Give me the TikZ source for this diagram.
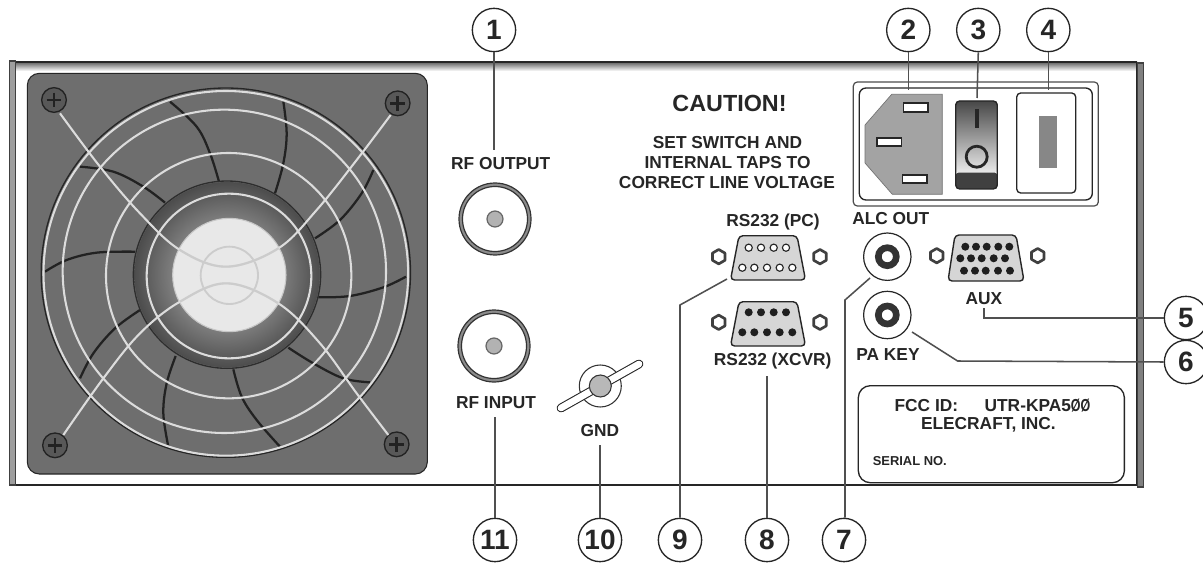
\documentclass[tikz,border=0pt]{standalone}
\usepackage{fontspec}
\setmainfont{Liberation Sans}
\definecolor{ink}{HTML}{262626}
\definecolor{leader}{HTML}{505050}
\definecolor{plate}{HTML}{6E6E6E}
\definecolor{wire}{HTML}{DCDCDC}
\definecolor{blade}{HTML}{222222}
\tikzset{
  callout/.style={circle,draw=ink,line width=1pt,fill=white,minimum size=32.5pt,inner sep=0pt,font=\fontsize{21}{21}\selectfont\bfseries,text=ink},
  lab/.style={inner sep=0pt,font=\fontsize{13}{13}\selectfont\bfseries,text=ink},
  leaderline/.style={draw=leader,line width=1.15pt},
  bladeline/.style={draw=blade,line width=1.7pt,smooth,tension=0.6},
  wireline/.style={draw=wire,line width=1.55pt},
  screwbody/.style={draw=blade,line width=1pt,fill=plate!80!black},
  dsub/.style={draw=ink,line width=1.05pt,fill=black!16,rounded corners=3pt},
  pinopen/.style={draw=ink,line width=.85pt,fill=white},
  pinfull/.style={fill=black!88},
  nut/.style={draw=black!75,line width=2pt,fill=white,line join=round},
}
\newcommand{\hexnut}[2]{\draw[nut,shift={(#1,#2)}] (30:7.2) -- (90:7.2) -- (150:7.2) -- (210:7.2) -- (270:7.2) -- (330:7.2) -- cycle;}
\begin{document}
\begin{tikzpicture}[x=0.75pt,y=-0.75pt]
\useasboundingbox (0,0) rectangle (1203,563);
\fill[white] (0,0) rectangle (1203,563);
% chassis
\shade[top color=black!62,bottom color=white] (15,62) rectangle (1137,71);
\draw[ink,line width=1pt] (15,62) -- (1137,62);
\draw[ink,line width=1pt] (15,485) -- (1137,485) -- (1137,62);
\draw[draw=black!75,line width=.8pt,fill=black!38] (9.5,61) rectangle (15.5,485);
\draw[draw=black!75,line width=.8pt,fill=black!50] (1137.5,63) rectangle (1143.5,487);
% fan
\begin{scope}[shift={(0,50)},x=0.25pt,y=-0.25pt]
  \fill[plate,draw=ink,line width=.8pt,rounded corners=9pt] (82,70) rectangle (1282,1272);
  \draw[bladeline] plot coordinates {(510,155) (590,230) (630,310) (657,395)};
  \draw[bladeline] plot coordinates {(850,155) (860,250) (850,340) (825,430)};
  \draw[bladeline] plot coordinates {(240,350) (340,365) (430,410) (495,458)};
  \draw[bladeline] plot coordinates {(1120,360) (1085,430) (1020,510) (945,565)};
  \draw[bladeline] plot coordinates {(135,665) (200,630) (290,608) (405,605)};
  \draw[bladeline] plot coordinates {(1218,680) (1150,712) (1050,738) (955,742)};
  \draw[bladeline] plot coordinates {(240,985) (280,910) (345,835) (420,780)};
  \draw[bladeline] plot coordinates {(1110,997) (1030,985) (940,940) (865,893)};
  \draw[bladeline] plot coordinates {(505,1190) (490,1090) (500,1000) (527,918)};
  \draw[bladeline] plot coordinates {(840,1190) (770,1110) (725,1040) (700,958)};
  \shade[inner color=black!22,outer color=black!70] (681,674) circle (278);
  \draw[black!82,line width=1pt] (681,674) circle (281);
  \fill[black!9,draw=black!22,line width=.8pt] (688,675) circle (170);
  \draw[black!85,line width=1pt] (677.5,668) circle (554);
  \draw[wireline] (677.5,670) circle (547);
  \draw[wireline] (673,664) circle (485);
  \draw[wireline] (686,677) circle (368);
  \draw[wireline] (687,678) circle (247);
  \draw[black!20,line width=1.4pt] (688,676) circle (86);
  \draw[screwbody] (162,150) circle (37);
  \draw[screwbody] (1193,160) circle (37);
  \draw[screwbody] (165,1186) circle (37);
  \draw[screwbody] (1190,1183) circle (37);
  \foreach \sx/\sy in {162/150,1193/160,165/1186,1190/1183}{
    \draw[blade,line width=2.2pt] (\sx-22,\sy) -- (\sx+22,\sy) (\sx,\sy-22) -- (\sx,\sy+22);
  }
  \draw[wireline,smooth,tension=0.6] plot coordinates {(180,190) (300,350) (420,490) (540,600) (680,650) (835,595) (950,480) (1070,330) (1172,195)};
  \draw[wireline,smooth,tension=0.6] plot coordinates {(190,1155) (310,985) (420,850) (540,755) (680,700) (835,760) (960,880) (1070,1030) (1165,1155)};
  \begin{scope}
    \clip (688,675) circle (168);
    \draw[black!20,line width=1.6pt,smooth,tension=0.6] plot coordinates {(420,490) (540,600) (680,650) (835,595) (950,480)};
    \draw[black!20,line width=1.6pt,smooth,tension=0.6] plot coordinates {(420,850) (540,755) (680,700) (835,760) (960,880)};
  \end{scope}
\end{scope}
% RF sockets
\foreach \cx/\cy in {495/219,494/346}{
  \draw[black!80,line width=.9pt,fill=black!45] (\cx,\cy) circle (36);
  \draw[black!80,line width=.9pt,fill=white] (\cx,\cy) circle (32.5);
  \draw[black!60,line width=.9pt,fill=black!30] (\cx,\cy) circle (8);
}
% GND post
\draw[black!80,line width=.8pt,fill=white] (600.3,386) circle (21);
\draw[black!85,line width=6.6pt,line cap=round] (561,408) -- (639,364);
\draw[white,line width=5pt,line cap=round] (561,408) -- (639,364);
\draw[black!80,line width=.8pt,fill=black!28] (600.3,386) circle (11);
% warning text
\node[lab,font=\fontsize{17.5}{17.5}\selectfont\bfseries] (caution) at (729.5,103) {CAUTION!};
\node[lab] (set1) at (727.5,143) {SET SWITCH AND};
\node[lab] (set2) at (727.5,163) {INTERNAL TAPS TO};
\node[lab] (set3) at (727,183) {CORRECT LINE VOLTAGE};
% power module
\draw[draw=black!70,line width=.9pt,rounded corners=3pt] (853.3,82) rectangle (1098.3,206);
\draw[draw=ink,line width=1pt,rounded corners=5pt] (859.3,88) rectangle (1092.3,200);
\fill[black!36,draw=black!55,line width=.5pt] (942.3,94.3) -- (891.7,94.3) -- (865,125) -- (865,163) -- (892.3,194.3) -- (942.3,194.3) -- cycle;
\draw[ink,line width=1.2pt,fill=white] (903.3,103) rectangle (927.7,112);
\draw[ink,line width=1.2pt,fill=white] (876.7,138) rectangle (901.3,146);
\draw[ink,line width=1.2pt,fill=white] (902.3,175) rectangle (927,183);
\shade[top color=black!72,bottom color=black!8,rounded corners=2pt] (955.7,101) rectangle (997.3,173);
\fill[black!75,rounded corners=2pt] (955.7,172.7) rectangle (997.3,189);
\draw[ink,line width=1pt,rounded corners=3pt] (955.7,101) rectangle (997.3,189);
\draw[ink,line width=3pt] (976.7,109) -- (976.7,128);
\draw[ink,line width=2.1pt] (976.7,156.7) circle (10.5);
\draw[ink,line width=1pt,rounded corners=3pt] (1016.7,93) rectangle (1075.7,193);
\fill[black!47] (1039,116) rectangle (1057,168);
% D-sub: PC
\draw[dsub] (739,235.7) -- (797,235.7) -- (805.5,280) -- (730.5,280) -- cycle;
\foreach \px in {748.7,761,773.7,786}{\draw[pinopen] (\px,247.7) circle (3.6);}
\foreach \px in {742.3,754.3,767,779.7,792.3}{\draw[pinopen] (\px,267.7) circle (3.6);}
\hexnut{718.7}{256.7}\hexnut{820}{256.7}
% D-sub: XCVR
\draw[dsub] (739,301.7) -- (797,301.7) -- (805.5,346) -- (730.5,346) -- cycle;
\foreach \px in {748.7,761,773.7,786}{\fill[pinfull] (\px,312.3) circle (4);}
\foreach \px in {742.3,754.3,767,779.7,792.3}{\fill[pinfull] (\px,332.3) circle (4);}
\hexnut{718.7}{322.3}\hexnut{820}{322.3}
% D-sub: AUX
\draw[dsub] (955,235) -- (1016,235) -- (1024,281) -- (948,281) -- cycle;
\foreach \px in {965.3,976,986.7,998.3,1009.3}{\fill[pinfull] (\px,246.7) circle (4);}
\foreach \px in {960.3,971,981.7,993.7,1005}{\fill[pinfull] (\px,258.3) circle (4);}
\foreach \px in {964,975,985.7,998,1010}{\fill[pinfull] (\px,270.7) circle (4);}
\hexnut{936.7}{255.7}\hexnut{1037.7}{255.7}
% jacks
\foreach \cy in {256.7,315}{
  \draw[ink,line width=.9pt,fill=white] (887.3,\cy) circle (23.7);
  \draw[black!80,line width=5pt] (887.3,\cy) circle (9);
}
% FCC label
\draw[ink,line width=1pt,rounded corners=9pt] (858.3,385.7) rectangle (1124.4,482.7);
\node[lab] (fccid) at (926.4,406) {FCC ID:};
\node[lab] (fccno) at (1037.5,406) {UTR-KPA5\scalebox{.72}[1]{Ø}\scalebox{.72}[1]{Ø}};
\node[lab] (maker) at (988.4,425) {ELECRAFT, INC.};
\node[lab,anchor=west,font=\fontsize{9.7}{9.7}\selectfont\bfseries] (serial) at (872.5,461) {SERIAL NO.};
% labels
\node[lab] (rfout) at (500.7,164) {RF OUTPUT};
\node[lab] (rfin) at (496,403) {RF INPUT};
\node[lab] (gnd) at (600,431) {GND};
\node[lab] (pc) at (773,222) {RS232 (PC)};
\node[lab] (xcvr) at (772.7,360.7) {RS232 (XCVR)};
\node[lab] (alc) at (890.8,219) {ALC OUT};
\node[lab] (pakey) at (888,355) {PA KEY};
\node[lab] (aux) at (984,299) {AUX};
% leader ends
\coordinate (e1) at (494,150);
\coordinate (e2) at (908.3,90);
\coordinate (e3) at (977,98);
\coordinate (e4) at (1048.3,90);
\coordinate (e5a) at (984,318);
\coordinate (e5) at (984,308);
\coordinate (e6a) at (957.6,361);
\coordinate (e6) at (912,332);
\coordinate (e7a) at (845,300);
\coordinate (e7) at (870,278);
\coordinate (e8) at (767,376);
\coordinate (e9a) at (680.7,305);
\coordinate (e9) at (727,279);
\coordinate (e10) at (600,445);
\coordinate (e11) at (495,417);
% callouts
\node[callout] (c1) at (494,30) {1};
\node[callout] (c2) at (908.3,30) {2};
\node[callout] (c3) at (978.3,30) {3};
\node[callout] (c4) at (1048.3,30) {4};
\node[callout] (c5) at (1186,318) {5};
\node[callout] (c6) at (1186,362) {6};
\node[callout] (c7) at (844,540) {7};
\node[callout] (c8) at (767,540) {8};
\node[callout] (c9) at (680,540) {9};
\node[callout] (c10) at (600,540) {10};
\node[callout] (c11) at (495,540) {11};
% leaders
\draw[leaderline] (c1) -- (e1);
\draw[leaderline] (c2.south) -- (e2);
\draw[leaderline] (c3.south) -- (e3);
\draw[leaderline] (c4.south) -- (e4);
\draw[leaderline] (c5) -- (e5a) -- (e5);
\draw[leaderline] (c6.west) -- (e6a) -- (e6);
\draw[leaderline] (c7.north -| e7a) -- (e7a) -- (e7);
\draw[leaderline] (c8) -- (e8);
\draw[leaderline] (c9) -- (c9 |- e9a) -- (e9);
\draw[leaderline] (c10) -- (e10);
\draw[leaderline] (c11) -- (e11);
\end{tikzpicture}
\end{document}
